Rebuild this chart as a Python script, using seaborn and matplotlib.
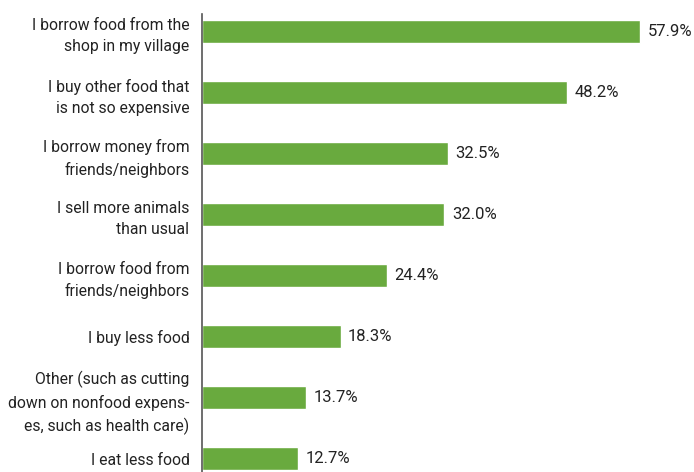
import matplotlib.pyplot as plt
import pandas as pd
import seaborn as sns

labels = [
    "I borrow food from the\nshop in my village",
    "I buy other food that\nis not so expensive",
    "I borrow money from\nfriends/neighbors",
    "I sell more animals\nthan usual",
    "I borrow food from\nfriends/neighbors",
    "I buy less food",
    "Other (such as cutting\ndown on nonfood expens-\nes, such as health care)",
    "I eat less food",
]
values = [57.9, 48.2, 32.5, 32.0, 24.4, 18.3, 13.7, 12.7]

df = pd.DataFrame({"label": labels, "value": values})

sns.set_theme(style="white")
plt.rcParams["font.family"] = ["Roboto", "DejaVu Sans"]

fig = plt.figure(figsize=(6.94, 4.72), dpi=100)
ax = fig.add_axes([202 / 694, 0, 1 - 202 / 694, 1 - 14 / 472])

green = "#69aa3e"
sns.barplot(data=df, x="value", y="label", color=green, width=0.38,
            saturation=1, ax=ax)

for i, v in enumerate(values):
    ax.text(v + 1.0, i, f"{v:.1f}%", va="center", ha="left",
            fontsize=12, color="#222222")

ax.set_xlim(0, 65)
ax.set_ylim(7.22, -0.287)
ax.set_xlabel("")
ax.set_ylabel("")
ax.set_xticks([])
ax.tick_params(axis="y", length=0, pad=9, labelsize=11.3, labelcolor="#222222")
for lbl in ax.get_yticklabels():
    lbl.set_horizontalalignment("right")
    lbl.set_multialignment("right")
    lbl.set_linespacing(1.5)
for s in ["top", "right", "bottom"]:
    ax.spines[s].set_visible(False)
ax.spines["left"].set_color("#555555")
ax.spines["left"].set_linewidth(1.2)

fig.savefig("out.png", dpi=100)
